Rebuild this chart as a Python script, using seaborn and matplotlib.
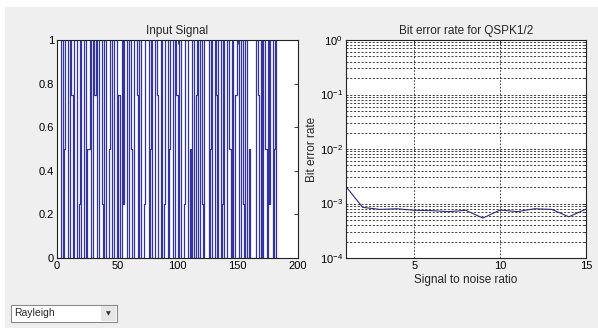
import matplotlib
matplotlib.use("Agg")
import matplotlib.pyplot as plt
import matplotlib.patches as mpatches
import matplotlib.ticker as mticker
import seaborn as sns
import pandas as pd

# ---------------- data ----------------
signal = [0, 0, 1, 1, 0, 0.5, 1, 1, 0, 0, 1, 0.75, 0, 1, 1, 1, 0, 0.25, 1, 0,
          0, 1, 1, 0, 0.5, 0.5, 1, 0, 0, 1, 0.75, 1, 0, 0, 1, 1, 0.25, 0, 1, 1,
          0, 0, 0.5, 1, 1, 0, 1, 1, 1, 0, 0.75, 0, 0, 1, 0.25, 1, 1, 0, 0, 1,
          0.5, 0, 0, 1, 1, 0.75, 0, 1, 1, 0, 0, 0.25, 1, 1, 1, 0, 0.5, 1, 0, 0,
          1, 1, 0.75, 0, 0, 1, 0, 0, 0.25, 1, 1, 0, 0.5, 1, 1, 0, 0, 1, 0.75, 0,
          1, 1, 0, 0, 0.25, 1, 1, 1, 0, 0.5, 0, 1, 1, 0, 0.75, 1, 0, 0, 1, 0.25,
          0, 1, 1, 1, 1, 0, 0.5, 1, 0, 0, 1, 0.75, 0, 1, 1, 0, 0.25, 1, 0, 0,
          1, 1, 0.5, 0, 1, 0, 0, 0.75, 1, 1, 0, 0, 1, 0.25, 0, 1, 1, 0, 0.5, 0,
          0, 0, 0, 0, 1, 1, 0.75, 0, 1, 0, 1, 1, 0.5, 0, 1, 0.25, 1, 1, 0, 0.5,
          1, 0, 0, 0]
sample_index = list(range(1, len(signal) + 1))

snr = list(range(1, 16))
ber = [2.1e-3, 8.5e-4, 7.8e-4, 8.0e-4, 7.5e-4, 7.4e-4, 7.1e-4, 7.5e-4,
       5.4e-4, 7.6e-4, 7.1e-4, 8.0e-4, 7.8e-4, 5.7e-4, 7.9e-4]

left_xticks = [0, 50, 100, 150, 200]
left_yticks = [0, 0.2, 0.4, 0.6, 0.8, 1]
right_xticks = [5, 10, 15]
dropdown_label = "Rayleigh"

# ---------------- style ----------------
sns.set_style("white")
plt.rcParams["font.family"] = ["Liberation Sans", "DejaVu Sans"]
plt.rcParams["mathtext.fontset"] = "custom"
plt.rcParams["mathtext.rm"] = "Liberation Sans"
plt.rcParams["font.size"] = 8
plt.rcParams["xtick.direction"] = "in"
plt.rcParams["ytick.direction"] = "in"

W, H = 598, 328
fig = plt.figure(figsize=(W / 100, H / 100), dpi=100)
fig.patch.set_facecolor("white")
fig.add_artist(mpatches.Rectangle((5 / W, 0), 1, 1 - 7 / H, transform=fig.transFigure,
                                  facecolor="#efefef", edgecolor="none", zorder=-10))

def px_axes(x0, y0, x1, y1):
    return fig.add_axes([x0 / W, 1 - y1 / H, (x1 - x0) / W, (y1 - y0) / H])

ax1 = px_axes(57, 40, 298, 258)
ax2 = px_axes(345.5, 40, 586, 258)

df_sig = pd.DataFrame({"n": sample_index, "v": signal})
sns.lineplot(data=df_sig, x="n", y="v", ax=ax1, color="#3434a0", linewidth=0.9,
             drawstyle="steps-post")
ax1.set_xlim(0, 200)
ax1.set_ylim(0, 1)
ax1.set_xticks(left_xticks)
ax1.set_yticks(left_yticks)
ax1.yaxis.set_major_formatter(mticker.FuncFormatter(lambda v, p: f"{v:g}"))
ax1.set_title("Input Signal", fontsize=8.5, pad=4)
ax1.set_xlabel("")
ax1.set_ylabel("")

df_ber = pd.DataFrame({"snr": snr, "ber": ber})
sns.lineplot(data=df_ber, x="snr", y="ber", ax=ax2, color="#2b2b7a", linewidth=0.8)
ax2.set_yscale("log")
ax2.set_xlim(1, 15)
ax2.set_ylim(1e-4, 1)
ax2.set_xticks(right_xticks)
ax2.yaxis.set_major_locator(mticker.LogLocator(base=10, numticks=10))
ax2.yaxis.set_minor_locator(mticker.LogLocator(base=10, subs=range(2, 10), numticks=20))
ax2.yaxis.set_minor_formatter(mticker.NullFormatter())
ax2.grid(True, which="both", axis="y", linestyle=(0, (2.5, 2)), color="#222222", linewidth=0.6)
ax2.grid(True, which="major", axis="x", linestyle=(0, (2, 2)), color="#222222", linewidth=0.6)
ax2.set_title("Bit error rate for QSPK1/2", fontsize=8.5, pad=4)
ax2.set_xlabel("Signal to noise ratio", fontsize=8.5, labelpad=2)
ax2.set_ylabel("Bit error rate", fontsize=8.5, labelpad=1)

for ax in (ax1, ax2):
    ax.set_facecolor("white")
    for s in ax.spines.values():
        s.set_color("#222222")
        s.set_linewidth(0.8)
        s.set_visible(True)
    ax.tick_params(which="both", top=True, right=True, colors="#222222",
                   labelcolor="black", labelsize=8, pad=2, width=0.6)
    ax.tick_params(which="major", length=3)
    ax.tick_params(which="minor", length=1.5)

# dropdown widget
fig.add_artist(mpatches.Rectangle((11 / W, 1 - 322 / H), 106 / W, 17 / H, transform=fig.transFigure,
                                  facecolor="white", edgecolor="#8a8a8a", linewidth=0.8))
fig.add_artist(mpatches.Rectangle((101 / W, 1 - 321 / H), 15 / W, 15 / H, transform=fig.transFigure,
                                  facecolor="#e6e6e6", edgecolor="none"))
fig.text(14 / W, 1 - 313.5 / H, dropdown_label, fontsize=7.5, va="center", ha="left")
fig.text(108.5 / W, 1 - 313.5 / H, "▼", fontsize=4.5, va="center", ha="center",
         family=["DejaVu Sans"], color="#333333")

fig.savefig("out.png", dpi=100)
